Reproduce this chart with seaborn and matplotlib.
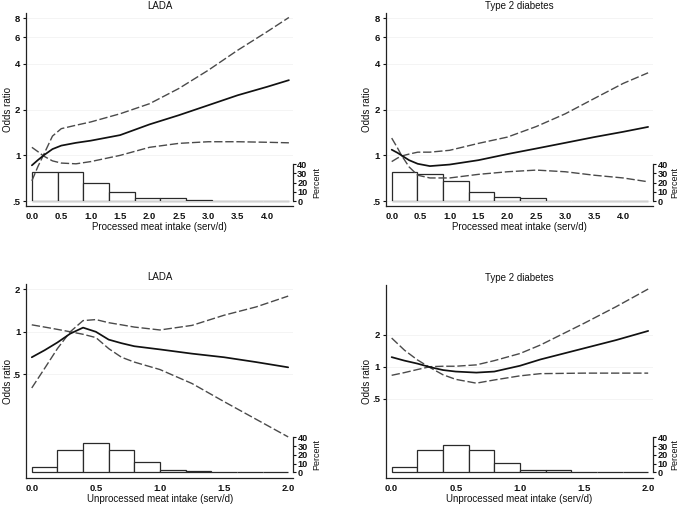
import pandas as pd
import seaborn as sns
import matplotlib.pyplot as plt

sns.set_style("white")
plt.rcParams["font.family"] = ["Liberation Sans", "DejaVu Sans"]

# processed meat, LADA
lada_p_x = [0, 0.1, 0.2, 0.35, 0.5, 0.75, 1.0, 1.5, 2.0, 2.5, 3.0, 3.5, 4.0, 4.37]
lada_p_or = [0.86, 0.93, 1.0, 1.10, 1.16, 1.21, 1.25, 1.36, 1.60, 1.84, 2.14, 2.49, 2.83, 3.13]
lada_p_ci1 = [0.68, 0.84, 1.01, 1.34, 1.50, 1.58, 1.66, 1.88, 2.19, 2.76, 3.64, 4.93, 6.53, 8.1]
lada_p_ci2 = [1.13, 1.06, 0.99, 0.92, 0.89, 0.88, 0.91, 1.0, 1.13, 1.20, 1.23, 1.23, 1.22, 1.21]
lada_p_pct = [32, 31.3, 19.6, 9.8, 3.3, 2.9, 1.0, 0.3, 0.3, 0.3]

# processed meat, type 2 diabetes
t2d_p_x = [0, 0.1, 0.17, 0.3, 0.45, 0.66, 1.0, 1.5, 2.0, 2.5, 3.0, 3.5, 4.0, 4.43]
t2d_p_or = [1.09, 1.04, 1.0, 0.93, 0.88, 0.85, 0.87, 0.93, 1.02, 1.11, 1.21, 1.32, 1.43, 1.54]
t2d_p_ci1 = [0.91, 0.96, 0.99, 1.02, 1.05, 1.05, 1.08, 1.20, 1.32, 1.55, 1.88, 2.37, 2.98, 3.50]
t2d_p_ci2 = [1.30, 1.12, 1.0, 0.84, 0.74, 0.71, 0.71, 0.75, 0.78, 0.80, 0.78, 0.74, 0.71, 0.67]
t2d_p_pct = [31.3, 29.5, 21.5, 10.2, 4.0, 3.3, 0.3, 0.3, 0.3, 0.3]

# unprocessed meat, LADA
lada_u_x = [0, 0.1, 0.2, 0.3, 0.4, 0.5, 0.6, 0.7, 0.8, 1.0, 1.25, 1.5, 1.75, 2.0]
lada_u_or = [0.66, 0.74, 0.84, 0.97, 1.07, 1.0, 0.88, 0.83, 0.79, 0.75, 0.70, 0.66, 0.61, 0.56]
lada_u_ci1 = [0.40, 0.55, 0.76, 1.0, 1.20, 1.22, 1.16, 1.12, 1.08, 1.03, 1.11, 1.31, 1.50, 1.79]
lada_u_ci2 = [1.12, 1.08, 1.04, 1.0, 0.96, 0.91, 0.76, 0.66, 0.61, 0.54, 0.43, 0.32, 0.24, 0.18]
lada_u_pct = [6.1, 25, 33, 25, 11.8, 2.7, 1.1, 0.4, 0.2, 0.2]

# unprocessed meat, type 2 diabetes
t2d_u_x = [0, 0.1, 0.2, 0.3, 0.4, 0.5, 0.66, 0.8, 1.0, 1.16, 1.5, 1.75, 2.0]
t2d_u_or = [1.23, 1.14, 1.07, 0.99, 0.93, 0.90, 0.88, 0.90, 1.02, 1.17, 1.49, 1.78, 2.17]
t2d_u_ci1 = [0.83, 0.88, 0.94, 1.0, 1.01, 1.01, 1.04, 1.14, 1.33, 1.60, 2.56, 3.67, 5.38]
t2d_u_ci2 = [1.86, 1.43, 1.16, 0.98, 0.84, 0.76, 0.70, 0.75, 0.82, 0.86, 0.87, 0.87, 0.87]
t2d_u_pct = [6.5, 25.5, 31, 25, 10.3, 2.7, 2.3, 0.8, 0.3, 0.3]

top_yticks = [0.5, 1, 2, 4, 6, 8]
top_ylabels = [".5", "1", "2", "4", "6", "8"]
bot_yticks = [0.5, 1, 2]
bot_ylabels = [".5", "1", "2"]
top_xticks = [0, 0.5, 1.0, 1.5, 2.0, 2.5, 3.0, 3.5, 4.0]
bot_xticks = [0, 0.5, 1.0, 1.5, 2.0]
pct_ticks = [0, 10, 20, 30, 40]

W, H = 679, 505


def panel(box, x, est, ci1, ci2, xmax, pct, xlim, ylim, yticks, ylabels,
          xticks, hist_ylim, title, xlabel, or_label_x, pct_label_x):
    left, top, right, bottom = box
    ax = fig.add_axes([left / W, 1 - bottom / H, (right - left) / W, (bottom - top) / H])
    hx = ax.twinx()
    ax.set_zorder(2)
    hx.set_zorder(1)
    ax.patch.set_visible(False)

    edges = [xmax * i / len(pct) for i in range(len(pct) + 1)]
    hist = pd.DataFrame({"mid": [(a + b) / 2 for a, b in zip(edges[:-1], edges[1:])],
                         "pct": pct})
    sns.histplot(data=hist, x="mid", weights="pct", bins=edges, ax=hx,
                 color="white", edgecolor="#2a2a2a", linewidth=0.9, alpha=1)

    ax.set_yscale("log", base=2)
    for v in yticks:
        ax.axhline(v, color="#f2f2f2", lw=0.6, zorder=0)
    sns.lineplot(x=x, y=ci1, ax=ax, color="#4a4a4a", linewidth=1.0,
                 linestyle=(0, (6, 2)))
    sns.lineplot(x=x, y=ci2, ax=ax, color="#4a4a4a", linewidth=1.0,
                 linestyle=(0, (6, 2)))
    sns.lineplot(x=x, y=est, ax=ax, color="#111111", linewidth=1.25)

    ax.set_xlim(*xlim)
    ax.set_ylim(*ylim)
    ax.set_yticks(yticks)
    ax.set_yticklabels(ylabels)
    ax.minorticks_off()
    ax.set_xticks(xticks)
    ax.set_xticklabels([f"{t:.1f}" for t in xticks])
    for lab in ax.get_xticklabels() + ax.get_yticklabels():
        lab.set_fontweight("bold")
    ax.tick_params(axis="both", length=2.5, width=0.8, pad=1.5,
                   labelsize=6.8, colors="#111111")
    for s in ["top", "right"]:
        ax.spines[s].set_visible(False)
    for s in ["left", "bottom"]:
        ax.spines[s].set_linewidth(0.9)
        ax.spines[s].set_color("#222222")
    ax.set_title(title, fontsize=7, pad=3, color="#111111")
    ax.set_xlabel(xlabel, fontsize=7, labelpad=1, color="#111111")
    ax.set_ylabel("Odds ratio", fontsize=7, color="#111111")
    ax.yaxis.set_label_coords((or_label_x - left) / (right - left), 0.5)

    hx.set_ylim(*hist_ylim)
    hx.set_yticks(pct_ticks)
    for s in ["top", "left", "bottom"]:
        hx.spines[s].set_visible(False)
    hx.spines["right"].set_bounds(0, 40)
    hx.spines["right"].set_linewidth(0.9)
    hx.spines["right"].set_color("#222222")
    hx.tick_params(axis="y", length=2.2, width=0.8, pad=0.8,
                   labelsize=6.6, colors="#111111")
    for lab in hx.get_yticklabels():
        lab.set_fontweight("bold")
    hx.set_ylabel("Percent", fontsize=6.5, rotation=90, color="#111111")
    hx.yaxis.set_label_coords((pct_label_x - left) / (right - left),
                              (20 - hist_ylim[0]) / (hist_ylim[1] - hist_ylim[0]))
    return ax


fig = plt.figure(figsize=(6.79, 5.05), dpi=100)

panel((26, 13, 293, 206),
      lada_p_x, lada_p_or, lada_p_ci1, lada_p_ci2, 4.37, lada_p_pct,
      (-0.1, 4.44), (0.464, 8.67), top_yticks, top_ylabels, top_xticks,
      (-5.45, 205), "LADA", "Processed meat intake (serv/d)", 12.5, 312)

panel((385.5, 13, 653.3, 206),
      t2d_p_x, t2d_p_or, t2d_p_ci1, t2d_p_ci2, 4.43, t2d_p_pct,
      (-0.107, 4.52), (0.464, 8.67), top_yticks, top_ylabels, top_xticks,
      (-5.45, 205), "Type 2 diabetes", "Processed meat intake (serv/d)", 371.5, 670)

panel((26, 284, 293.3, 478),
      lada_u_x, lada_u_or, lada_u_ci1, lada_u_ci2, 2.0, lada_u_pct,
      (-0.045, 2.04), (0.0921, 2.18), bot_yticks, bot_ylabels, bot_xticks,
      (-6.5, 215.2), "LADA", "Unprocessed meat intake (serv/d)", 12.5, 312)

panel((385.5, 285, 653.3, 478),
      t2d_u_x, t2d_u_or, t2d_u_ci1, t2d_u_ci2, 2.0, t2d_u_pct,
      (-0.048, 2.04), (0.0897, 5.87), bot_yticks, bot_ylabels, bot_xticks,
      (-6.5, 214), "Type 2 diabetes", "Unprocessed meat intake (serv/d)", 371.5, 670)

fig.savefig("out.png", dpi=100)
